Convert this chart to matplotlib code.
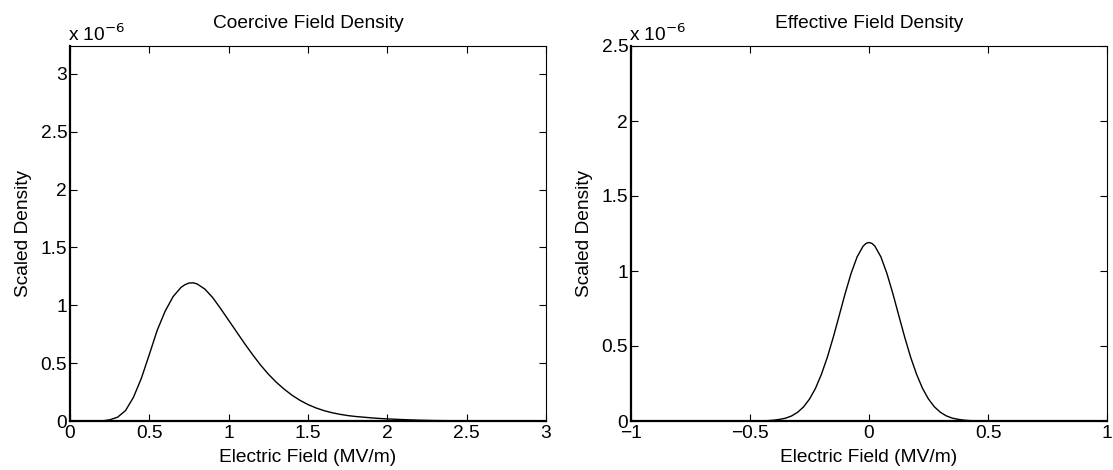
import matplotlib
matplotlib.use("Agg")
import matplotlib.pyplot as plt

plt.rcParams['font.family'] = ['Liberation Sans', 'DejaVu Sans']

# Coercive field density (x in MV/m, y in units of 1e-6)
coercive_x = [0.00, 0.20, 0.25, 0.30, 0.35, 0.40, 0.45, 0.50, 0.55, 0.60,
              0.65, 0.70, 0.725, 0.75, 0.775, 0.80, 0.85, 0.90, 0.95, 1.00, 1.05, 1.10,
              1.15, 1.20, 1.25, 1.30, 1.35, 1.40, 1.45, 1.50, 1.55, 1.60,
              1.65, 1.70, 1.75, 1.80, 1.85, 1.90, 1.95, 2.00, 2.10, 2.20,
              2.30, 2.40, 2.50, 2.75, 3.00]
coercive_y = [0.000, 0.000, 0.010, 0.033, 0.090, 0.205, 0.370, 0.575, 0.785, 0.950,
              1.075, 1.155, 1.178, 1.192, 1.194, 1.185, 1.140, 1.065, 0.970, 0.870, 0.770, 0.670,
              0.575, 0.485, 0.405, 0.335, 0.275, 0.222, 0.178, 0.142, 0.113, 0.090,
              0.072, 0.058, 0.047, 0.039, 0.033, 0.027, 0.022, 0.018, 0.012, 0.007,
              0.004, 0.0025, 0.0015, 0.0004, 0.000]

# Effective field density
effective_x = [-1.00, -0.50, -0.45, -0.425, -0.40, -0.375, -0.35, -0.325, -0.30, -0.275,
               -0.25, -0.225, -0.20, -0.175, -0.15, -0.125, -0.10, -0.075, -0.05, -0.025,
               -0.0125, 0.00, 0.0125,
               0.025, 0.05, 0.075, 0.10, 0.125, 0.15, 0.175, 0.20, 0.225,
               0.25, 0.275, 0.30, 0.325, 0.35, 0.375, 0.40, 0.425, 0.45, 0.50, 1.00]
effective_y = [0.000, 0.0002, 0.0012, 0.0025, 0.0055, 0.011, 0.019, 0.034, 0.058, 0.094,
               0.146, 0.217, 0.311, 0.425, 0.559, 0.704, 0.851, 0.985, 1.094, 1.165,
               1.184, 1.190, 1.184,
               1.165, 1.094, 0.985, 0.851, 0.704, 0.559, 0.425, 0.311, 0.217,
               0.146, 0.094, 0.058, 0.034, 0.019, 0.011, 0.0055, 0.0025, 0.0012, 0.0002, 0.000]

left_xticks = [0, 0.5, 1, 1.5, 2, 2.5, 3]
left_yticks = [0, 0.5, 1, 1.5, 2, 2.5, 3]
right_xticks = [-1, -0.5, 0, 0.5, 1]
right_yticks = [0, 0.5, 1, 1.5, 2, 2.5]

fs = 13.8


def style_axes(ax):
    ax.tick_params(direction='in', top=True, right=True, length=5, width=0.8,
                   labelsize=fs, pad=2)
    ax.tick_params(axis='x', pad=3)
    for side in ['left', 'bottom']:
        ax.spines[side].set_linewidth(1.6)
    for side in ['top', 'right']:
        ax.spines[side].set_linewidth(0.8)
    ax.set_xlabel('Electric Field (MV/m)', fontsize=fs, labelpad=5)
    ax.set_ylabel('Scaled Density', fontsize=fs, labelpad=6)
    ax.text(-0.005, 1.002, r'x 10$^{-6}$', transform=ax.transAxes,
            fontsize=fs, ha='left', va='bottom')


fig = plt.figure(figsize=(11.13, 4.70), dpi=100)
ax1 = fig.add_axes([70 / 1113, 49 / 470, 476 / 1113, 375 / 470])
ax2 = fig.add_axes([631 / 1113, 49 / 470, 476 / 1113, 375 / 470])

ax1.plot(coercive_x, coercive_y, color='black', linewidth=1.0)
ax1.set_xlim(0, 3)
ax1.set_ylim(0, 3.24)
ax1.set_xticks(left_xticks)
ax1.set_xticklabels(['0', '0.5', '1', '1.5', '2', '2.5', '3'])
ax1.set_yticks(left_yticks)
ax1.set_yticklabels(['0', '0.5', '1', '1.5', '2', '2.5', '3'])
ax1.set_title('Coercive Field Density', fontsize=fs, pad=13)
style_axes(ax1)

ax2.plot(effective_x, effective_y, color='black', linewidth=1.0)
ax2.set_xlim(-1, 1)
ax2.set_ylim(0, 2.5)
ax2.set_xticks(right_xticks)
ax2.set_xticklabels(['\u22121', '\u22120.5', '0', '0.5', '1'])
ax2.set_yticks(right_yticks)
ax2.set_yticklabels(['0', '0.5', '1', '1.5', '2', '2.5'])
ax2.set_title('Effective Field Density', fontsize=fs, pad=13)
style_axes(ax2)

fig.savefig('out.png', dpi=100)
